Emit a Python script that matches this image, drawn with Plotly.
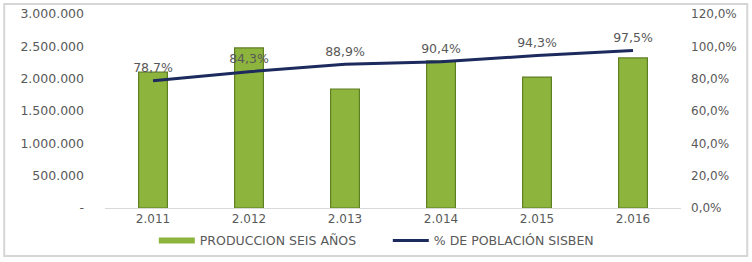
import plotly.graph_objects as go

years = ["2.011", "2.012", "2.013", "2.014", "2.015", "2.016"]
produccion = [2100000, 2475000, 1840000, 2275000, 2025000, 2320000]
poblacion_pct = [78.7, 84.3, 88.9, 90.4, 94.3, 97.5]

left_tickvals = [0, 500000, 1000000, 1500000, 2000000, 2500000, 3000000]
left_ticktext = ["-", "500.000", "1.000.000", "1.500.000", "2.000.000", "2.500.000", "3.000.000"]
right_tickvals = [0, 20, 40, 60, 80, 100, 120]
right_ticktext = ["0,0%", "20,0%", "40,0%", "60,0%", "80,0%", "100,0%", "120,0%"]

pct_labels = [f"{v:.1f}%".replace(".", ",") for v in poblacion_pct]

FONT = "DejaVu Sans"
GRAY = "#595959"
GREEN = "#8db43c"

fig = go.Figure()
fig.add_trace(go.Bar(
    x=years, y=produccion, name="PRODUCCION SEIS AÑOS",
    marker=dict(color=GREEN, line=dict(color="#5f7f24", width=1.2)),
    width=0.3, yaxis="y", showlegend=False,
))
# legend swatch for the bars (wide flat bar like the original legend)
fig.add_trace(go.Scatter(
    x=[None], y=[None], name="PRODUCCION SEIS AÑOS", mode="lines",
    line=dict(color=GREEN, width=6), showlegend=True, hoverinfo="skip",
))
fig.add_trace(go.Scatter(
    x=years, y=poblacion_pct, name="% DE POBLACIÓN SISBEN",
    mode="lines+markers+text", text=pct_labels, textposition="top center",
    marker=dict(size=7, color="rgba(0,0,0,0)"),
    textfont=dict(family=FONT, size=12.5, color=GRAY),
    line=dict(color="#1c2a5e", width=3), yaxis="y2", cliponaxis=False,
))

fig.update_layout(
    width=752, height=262,
    margin=dict(l=105, r=71, t=14, b=54, autoexpand=False),
    paper_bgcolor="white", plot_bgcolor="white",
    font=dict(family=FONT, size=12, color=GRAY),
    showlegend=True,
    legend=dict(orientation="h", x=0.491, xanchor="center", y=-0.17, yanchor="middle",
                font=dict(family=FONT, size=12.5, color=GRAY), bgcolor="rgba(0,0,0,0)",
                itemwidth=36, entrywidth=183),
    xaxis=dict(showgrid=False, showline=True, linecolor="#d9d9d9", ticks="",
               tickfont=dict(size=12, color=GRAY), automargin=False),
    yaxis=dict(range=[0, 3000000], tickvals=left_tickvals, ticktext=left_ticktext,
               showgrid=False, zeroline=False, showline=False, ticklabelstandoff=20,
               tickfont=dict(size=12.5, color=GRAY), automargin=False),
    yaxis2=dict(range=[0, 120], tickvals=right_tickvals, ticktext=right_ticktext,
                overlaying="y", side="right", showgrid=False, zeroline=False,
                showline=False, ticklabelstandoff=9, tickfont=dict(size=12, color=GRAY),
                automargin=False),
    bargap=0.7,
    shapes=[dict(type="rect", xref="paper", yref="paper",
                 x0=-0.175, x1=1.115, y0=-0.247, y1=1.052,
                 line=dict(color="#d6d6d6", width=2), fillcolor="rgba(0,0,0,0)", layer="below")],
)

fig.write_html("out.html", config={"displayModeBar": False},
               post_script="document.body.style.margin='0';document.body.style.overflow='hidden';")
